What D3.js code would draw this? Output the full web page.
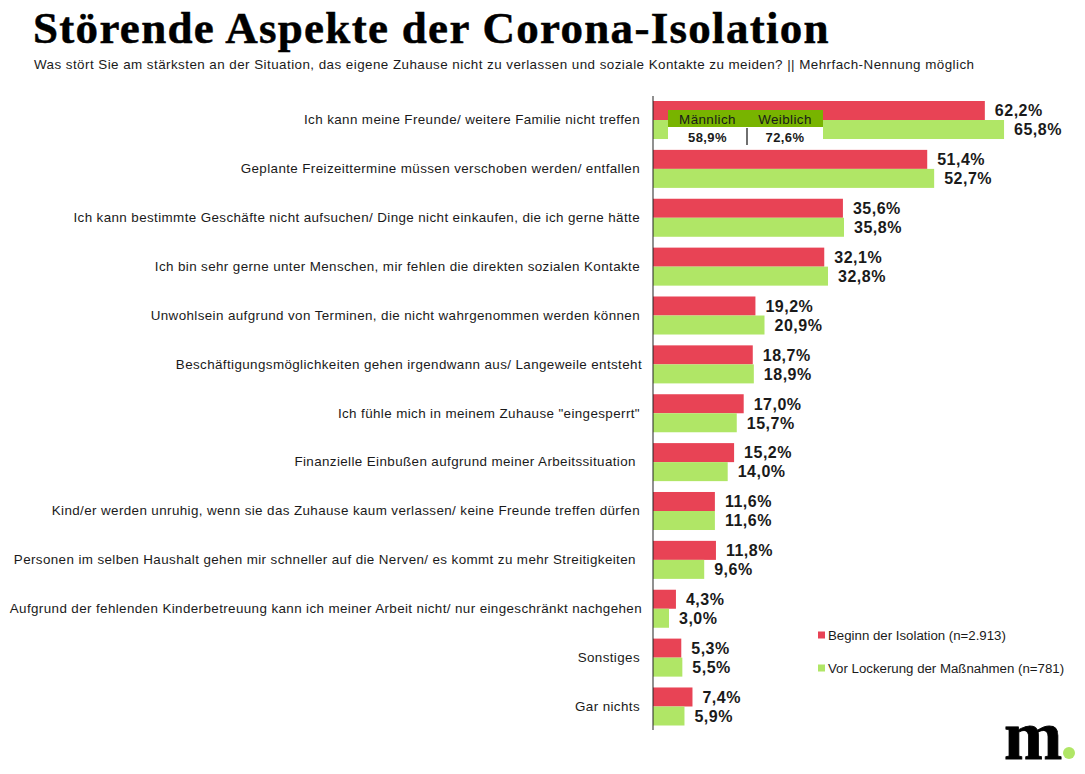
<!DOCTYPE html>
<html>
<head>
<meta charset="utf-8">
<script src="https://cdn.jsdelivr.net/npm/d3@7/dist/d3.min.js"></script>
<style>
  html, body { margin: 0; padding: 0; background: #fff; }
  svg { display: block; }
  text { font-family: "Liberation Sans", Arial, sans-serif; fill: #1a1a1a; white-space: pre; }
</style>
</head>
<body>
<svg id="chart" width="1085" height="774"></svg>
<script>
const categories = [
  'Ich kann meine Freunde/ weitere Familie nicht treffen',
  'Geplante Freizeittermine müssen verschoben werden/ entfallen',
  'Ich kann bestimmte Geschäfte nicht aufsuchen/ Dinge nicht einkaufen, die ich gerne hätte',
  'Ich bin sehr gerne unter Menschen, mir fehlen die direkten sozialen Kontakte',
  'Unwohlsein aufgrund von Terminen, die nicht wahrgenommen werden können',
  'Beschäftigungsmöglichkeiten gehen irgendwann aus/ Langeweile entsteht',
  'Ich fühle mich in meinem Zuhause "eingesperrt"',
  'Finanzielle Einbußen aufgrund meiner Arbeitssituation ',
  'Kind/er werden unruhig, wenn sie das Zuhause kaum verlassen/ keine Freunde treffen dürfen',
  'Personen im selben Haushalt gehen mir schneller auf die Nerven/ es kommt zu mehr Streitigkeiten ',
  'Aufgrund der fehlenden Kinderbetreuung kann ich meiner Arbeit nicht/ nur eingeschränkt nachgehen',
  'Sonstiges',
  'Gar nichts'
];
const beginnValues = [62.2, 51.4, 35.6, 32.1, 19.2, 18.7, 17.0, 15.2, 11.6, 11.8, 4.3, 5.3, 7.4];
const lockerungValues = [65.8, 52.7, 35.8, 32.8, 20.9, 18.9, 15.7, 14.0, 11.6, 9.6, 3.0, 5.5, 5.9];
const seriesNames = ['Beginn der Isolation (n=2.913)', 'Vor Lockerung der Maßnahmen (n=781)'];
const genderLabels = ['Männlich', 'Weiblich'];
const genderValues = ['58,9%', '72,6%'];

const red = '#e84355';
const green = '#b0e666';
const darkGreen = '#78b400';

const svg = d3.select('#chart');
const fmt = v => v.toFixed(1).replace('.', ',') + '%';

// Scales
const axisX = 653;
const x = d3.scaleLinear().domain([0, 100]).range([axisX, axisX + 533.5]);
const y = d3.scaleBand().domain(categories).range([101, 725.5]).paddingInner(0.222);
const ySub = d3.scaleBand().domain([0, 1]).range([0, y.bandwidth()]);

// Title
svg.append('text')
  .attr('x', 33).attr('y', 43)
  .style('font-family', '"Liberation Serif", serif')
  .style('font-weight', 'bold')
  .style('font-size', '45px')
  .style('letter-spacing', '1.3px')
  .style('fill', '#000')
  .style('stroke', '#000')
  .style('stroke-width', '0.5px')
  .text('Störende Aspekte der Corona-Isolation');

svg.append('text')
  .attr('x', 34).attr('y', 69)
  .style('font-size', '13.4px')
  .style('letter-spacing', '0.45px')
  .text('Was stört Sie am stärksten an der Situation, das eigene Zuhause nicht zu verlassen und soziale Kontakte zu meiden? || Mehrfach-Nennung möglich');

// Bars
[beginnValues, lockerungValues].forEach((values, s) => {
  svg.append('g').selectAll('rect')
    .data(values)
    .join('rect')
    .attr('x', axisX)
    .attr('y', (d, i) => y(categories[i]) + ySub(s))
    .attr('width', d => x(d) - axisX)
    .attr('height', ySub.bandwidth())
    .attr('fill', s === 0 ? red : green);

  svg.append('g').selectAll('text')
    .data(values)
    .join('text')
    .attr('x', d => x(d) + 10)
    .attr('y', (d, i) => y(categories[i]) + ySub(s) + ySub.bandwidth() / 2)
    .attr('dy', '0.36em')
    .style('font-size', '16px')
    .style('font-weight', 'bold')
    .style('letter-spacing', '0.5px')
    .text(fmt);
});

// Category labels
const yAxis = d3.axisLeft(y).tickSize(0).tickPadding(13);
const yG = svg.append('g').attr('transform', `translate(${axisX},0)`).call(yAxis);
yG.select('.domain').remove();
yG.selectAll('text')
  .style('font-size', '13.4px')
  .style('letter-spacing', '0.39px')
  .style('font-family', '"Liberation Sans", Arial, sans-serif')
  .style('fill', '#1a1a1a')
  .attr('dx', (d, i) => (i === 5 || i === 10) ? 2 : 0);

svg.append('line')
  .attr('x1', axisX).attr('x2', axisX)
  .attr('y1', 96).attr('y2', 730)
  .attr('stroke', '#222').attr('stroke-width', 1);

// Inset: first answer by gender
const inset = svg.append('g');
inset.append('rect').attr('x', 668).attr('y', 110).attr('width', 155).attr('height', 35).attr('fill', '#fff');
inset.append('rect').attr('x', 668).attr('y', 110).attr('width', 155).attr('height', 17).attr('fill', darkGreen);
inset.append('line').attr('x1', 747).attr('x2', 747).attr('y1', 128).attr('y2', 145).attr('stroke', '#222').attr('stroke-width', 1.3);
[707.5, 785].forEach((cx, i) => {
  inset.append('text').attr('x', cx).attr('y', 123.5).attr('text-anchor', 'middle')
    .style('font-size', '13.4px').style('letter-spacing', '0.4px').text(genderLabels[i]);
  inset.append('text').attr('x', cx).attr('y', 141.5).attr('text-anchor', 'middle')
    .style('font-size', '13px').style('font-weight', 'bold').style('letter-spacing', '0.4px').text(genderValues[i]);
});

// Legend
const legendY = [635, 668];
seriesNames.forEach((name, i) => {
  svg.append('rect').attr('x', 818).attr('y', legendY[i] - 3.5).attr('width', 7).attr('height', 7)
    .attr('fill', i === 0 ? red : green);
  svg.append('text').attr('x', 828).attr('y', legendY[i]).attr('dy', '0.36em')
    .style('font-size', '13.25px').text(name);
});

// Logo
svg.append('text')
  .attr('x', 1004).attr('y', 759)
  .style('font-family', '"Liberation Serif", serif')
  .style('font-weight', 'bold')
  .style('font-size', '70px')
  .style('fill', '#000')
  .style('stroke', '#000')
  .style('stroke-width', '0.8px')
  .text('m');
svg.append('circle').attr('cx', 1069).attr('cy', 753).attr('r', 6).attr('fill', green);
</script>
</body>
</html>
